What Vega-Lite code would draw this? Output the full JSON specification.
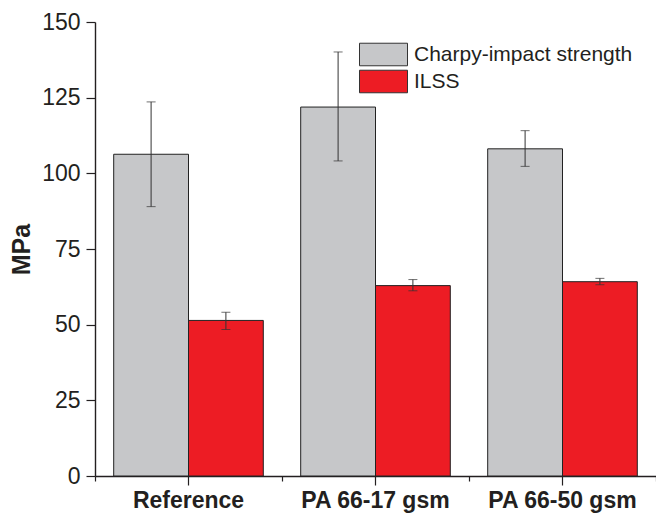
{
  "$schema": "https://vega.github.io/schema/vega-lite/v6.json",
  "width": 561,
  "height": 454,
  "autosize": {"type": "none"},
  "padding": {"left": 95, "top": 22, "right": 0, "bottom": 37},
  "background": "white",
  "config": {"view": {"stroke": null}, "font": "Liberation Sans"},
  "data": {"values": [
    {"group": "Reference", "series": "Charpy-impact strength", "value": 106.3, "low": 89.0, "high": 123.6},
    {"group": "Reference", "series": "ILSS", "value": 51.4, "low": 48.4, "high": 54.1},
    {"group": "PA 66-17 gsm", "series": "Charpy-impact strength", "value": 121.9, "low": 104.1, "high": 140.1},
    {"group": "PA 66-17 gsm", "series": "ILSS", "value": 62.9, "low": 61.2, "high": 64.9},
    {"group": "PA 66-50 gsm", "series": "Charpy-impact strength", "value": 108.1, "low": 102.3, "high": 114.1},
    {"group": "PA 66-50 gsm", "series": "ILSS", "value": 64.2, "low": 63.2, "high": 65.3}
  ]},
  "resolve": {"axis": {"x": "independent"}},
  "layer": [
    {
      "mark": {"type": "bar", "stroke": "#222", "strokeWidth": 1},
      "encoding": {
        "x": {"field": "group", "type": "nominal", "sort": null,
          "scale": {"paddingInner": 0, "paddingOuter": 0},
          "axis": {"orient": "bottom", "title": null, "labelAngle": 0, "labelFontSize": 23, "labelFontWeight": "bold", "labelColor": "#231f20", "labelPadding": 4, "tickSize": 9, "tickColor": "#231f20", "tickWidth": 1.2, "domainColor": "#231f20", "domainWidth": 1.4}},
        "xOffset": {"field": "series", "type": "nominal", "sort": null, "scale": {"paddingInner": 0, "paddingOuter": 0.25}},
        "y": {"field": "value", "type": "quantitative",
          "scale": {"domain": [0, 150], "nice": false},
          "axis": {"title": "MPa", "titleFontSize": 25, "titleFontWeight": "bold", "titleColor": "#231f20", "titlePadding": 7,
            "values": [0, 12.5, 25, 37.5, 50, 62.5, 75, 87.5, 100, 112.5, 125, 137.5, 150],
            "labelExpr": "datum.value % 25 === 0 ? datum.label : ''",
            "labelFontSize": 23, "labelColor": "#231f20", "labelPadding": 6,
            "tickSize": {"condition": {"test": "datum.value % 25 !== 0", "value": 5}, "value": 9},
            "tickColor": "#231f20", "tickWidth": 1.2, "domainColor": "#231f20", "domainWidth": 1.4, "grid": false}},
        "fill": {"field": "series", "type": "nominal", "sort": null,
          "scale": {"domain": ["Charpy-impact strength", "ILSS"], "range": ["#c6c7c9", "#ed1c24"]},
          "legend": {"orient": "none", "legendX": 276, "legendY": 20, "title": null,
            "symbolType": "M-2,-0.94H2V0.94H-2Z", "symbolSize": 576, "symbolStrokeColor": "#333", "symbolStrokeWidth": 1,
            "labelFontSize": 21, "labelColor": "#231f20", "labelOffset": 18, "labelLimit": 0, "rowPadding": 0}}
      }
    },
    {
      "mark": {"type": "rule", "color": "#333", "strokeWidth": 1},
      "encoding": {
        "x": {"field": "group", "type": "nominal", "sort": null,
          "axis": {"orient": "bottom", "title": null, "labels": false, "domain": false, "tickBand": "extent", "tickSize": 5, "tickColor": "#231f20", "tickWidth": 1.2}},
        "xOffset": {"field": "series", "type": "nominal", "sort": null},
        "y": {"field": "low", "type": "quantitative"},
        "y2": {"field": "high"}
      }
    },
    {
      "mark": {"type": "tick", "color": "#333", "size": 9, "thickness": 1},
      "encoding": {
        "x": {"field": "group", "type": "nominal", "sort": null, "axis": null},
        "xOffset": {"field": "series", "type": "nominal", "sort": null},
        "y": {"field": "low", "type": "quantitative"}
      }
    },
    {
      "mark": {"type": "tick", "color": "#333", "size": 9, "thickness": 1},
      "encoding": {
        "x": {"field": "group", "type": "nominal", "sort": null, "axis": null},
        "xOffset": {"field": "series", "type": "nominal", "sort": null},
        "y": {"field": "high", "type": "quantitative"}
      }
    }
  ]
}
